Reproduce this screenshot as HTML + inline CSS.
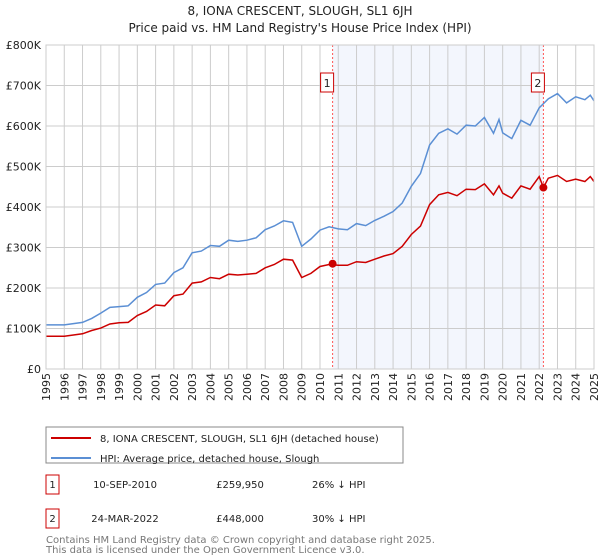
<!DOCTYPE html>
<html><head><meta charset="utf-8"><style>
body{margin:0;background:#fff;}
svg{display:block;font-family:"DejaVu Sans","Liberation Sans",sans-serif;}
</style></head><body>
<svg id="chart" width="600" height="560" viewBox="0 0 600 560">
<text x="300" y="15" text-anchor="middle" font-size="12" fill="#222">8, IONA CRESCENT, SLOUGH, SL1 6JH</text>
<text x="300" y="32" text-anchor="middle" font-size="12" fill="#222">Price paid vs. HM Land Registry's House Price Index (HPI)</text>
<g id="plot"></g>
<g>
<rect x="46" y="427" width="357" height="36" fill="#fff" stroke="#888"/>
<line x1="51" y1="438" x2="91" y2="438" stroke="#cc0000" stroke-width="2"/>
<text x="100" y="442" font-size="10" fill="#222">8, IONA CRESCENT, SLOUGH, SL1 6JH (detached house)</text>
<line x1="51" y1="458" x2="91" y2="458" stroke="#5b8fd4" stroke-width="2"/>
<text x="100" y="462" font-size="10" fill="#222">HPI: Average price, detached house, Slough</text>
</g>
<g>
<rect x="46" y="475" width="13" height="19" fill="#fff" stroke="#cc0000"/>
<text x="52.5" y="488" text-anchor="middle" font-size="10" fill="#222">1</text>
<text x="125" y="488" text-anchor="middle" font-size="10" fill="#222">10-SEP-2010</text>
<text x="240" y="488" text-anchor="middle" font-size="10" fill="#222">£259,950</text>
<text x="312" y="488" font-size="10" fill="#222">26% ↓ HPI</text>
<rect x="46" y="509" width="13" height="19" fill="#fff" stroke="#cc0000"/>
<text x="52.5" y="522" text-anchor="middle" font-size="10" fill="#222">2</text>
<text x="125" y="522" text-anchor="middle" font-size="10" fill="#222">24-MAR-2022</text>
<text x="240" y="522" text-anchor="middle" font-size="10" fill="#222">£448,000</text>
<text x="312" y="522" font-size="10" fill="#222">30% ↓ HPI</text>
</g>
<text x="46" y="543" font-size="10" fill="#777">Contains HM Land Registry data © Crown copyright and database right 2025.</text>
<text x="46" y="553" font-size="10" fill="#777">This data is licensed under the Open Government Licence v3.0.</text>
</svg>
<script>
const hpiYears=[1995,1996,1997,1997.5,1998,1998.5,1999,1999.5,2000,2000.5,2001,2001.5,2002,2002.5,2003,2003.5,2004,2004.5,2005,2005.5,2006,2006.5,2007,2007.5,2008,2008.5,2009,2009.5,2010,2010.5,2011,2011.5,2012,2012.5,2013,2013.5,2014,2014.5,2015,2015.5,2016,2016.5,2017,2017.5,2018,2018.5,2019,2019.5,2019.8,2020,2020.5,2021,2021.5,2022,2022.5,2023,2023.5,2024,2024.5,2024.8,2025];
const hpiValues=[109,109,115,125,138,152,154,156,177,189,209,212,238,250,287,291,305,303,318,315,318,324,344,353,366,362,303,321,343,351,346,344,359,354,367,377,389,410,451,483,553,582,593,580,602,600,621,582,616,583,569,614,602,645,667,680,657,672,665,676,662];
const propYears=[1995,1996,1997,1997.5,1998,1998.5,1999,1999.5,2000,2000.5,2001,2001.5,2002,2002.5,2003,2003.5,2004,2004.5,2005,2005.5,2006,2006.5,2007,2007.5,2008,2008.5,2009,2009.5,2010,2010.5,2011,2011.5,2012,2012.5,2013,2013.5,2014,2014.5,2015,2015.5,2016,2016.5,2017,2017.5,2018,2018.5,2019,2019.5,2019.8,2020,2020.5,2021,2021.5,2022,2022.23,2022.5,2023,2023.5,2024,2024.5,2024.8,2025];
const propValues=[81,81,87,95,101,111,114,115,132,142,158,156,181,185,212,215,226,223,234,232,234,236,250,258,271,269,226,236,253,258,256,256,265,263,271,279,285,303,332,353,406,430,436,428,444,443,457,430,452,434,422,452,444,475,448,471,478,463,469,463,475,463];
const saleYears=[2010.69,2022.23];
const saleValues=[259.95,448];
const saleLabels=["1","2"];
const yTicks=[0,100,200,300,400,500,600,700,800];
const yTickLabels=["£0","£100K","£200K","£300K","£400K","£500K","£600K","£700K","£800K"];
const xTicks=[1995,1996,1997,1998,1999,2000,2001,2002,2003,2004,2005,2006,2007,2008,2009,2010,2011,2012,2013,2014,2015,2016,2017,2018,2019,2020,2021,2022,2023,2024,2025];

const L=46,R=594,T=45,B=369;
const xs=y=>L+(y-1995)/30*(R-L);
const ys=v=>B-v/800*(B-T);
const NS="http://www.w3.org/2000/svg";
const g=document.getElementById('plot');
function mk(tag,attrs,parent){const e=document.createElementNS(NS,tag);for(const k in attrs)e.setAttribute(k,attrs[k]);(parent||g).appendChild(e);return e;}

const bg=mk('rect',{x:L,y:T,width:R-L,height:B-T,fill:'#fff'});


const sh=mk('rect',{x:xs(saleYears[0]),y:T,width:xs(saleYears[1])-xs(saleYears[0]),height:B-T,fill:'#f3f6fd'});



xTicks.forEach((yr,i)=>{
  const l=mk('line',{x1:xs(yr),x2:xs(yr),y1:T,y2:B,stroke:'#cccccc','stroke-width':1});
  
  
  const t=mk('text',{x:0,y:0,'font-size':11,fill:'#222','text-anchor':'end',transform:`translate(${xs(yr)+4},${B+4}) rotate(-90)`});
  t.textContent=String(yr);
  
  
});
yTicks.forEach((v,i)=>{
  const l=mk('line',{x1:L,x2:R,y1:ys(v),y2:ys(v),stroke:'#cccccc','stroke-width':1});
  
  
  const t=mk('text',{x:L-5,y:ys(v)+4,'font-size':11,fill:'#222','text-anchor':'end'});
  t.textContent=yTickLabels[i];
  
  
});

function path(xsArr,vs){return xsArr.map((y,i)=>(i?'L':'M')+xs(y).toFixed(1)+','+ys(vs[i]).toFixed(1)).join(' ');}
const hl=mk('path',{d:path(hpiYears,hpiValues),fill:'none',stroke:'#5b8fd4','stroke-width':1.5});


const pl=mk('path',{d:path(propYears,propValues),fill:'none',stroke:'#cc0000','stroke-width':1.5});



saleYears.forEach((yr,i)=>{
  const vl=mk('line',{x1:xs(yr),x2:xs(yr),y1:T,y2:B,stroke:'#ff5555','stroke-width':1,'stroke-dasharray':'2,2'});
  
  
  const bx=mk('rect',{x:xs(yr)-12,y:73,width:13,height:19,fill:'#fff',stroke:'#cc0000'});
  
  
  const tx=mk('text',{x:xs(yr)-5.5,y:87,'font-size':11,fill:'#222','text-anchor':'middle'});
  tx.textContent=saleLabels[i];
  
  
  const c=mk('circle',{cx:xs(yr),cy:ys(saleValues[i]),r:4,fill:'#cc0000'});
  
  
});
const ax=mk('rect',{x:L,y:T,width:R-L,height:B-T,fill:'none',stroke:'#cccccc'});


</script>
</body></html>
